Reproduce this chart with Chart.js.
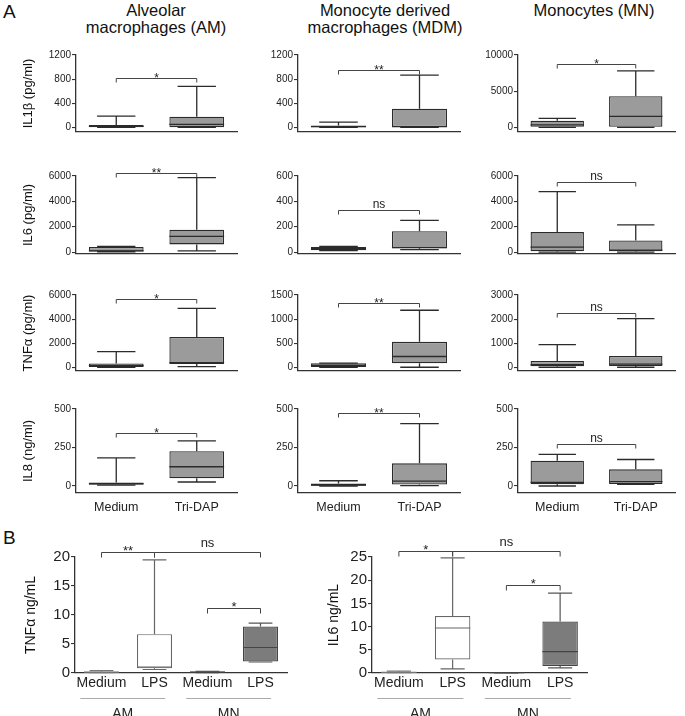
<!DOCTYPE html>
<html>
<head>
<meta charset="utf-8">
<script src="https://cdn.jsdelivr.net/npm/chart.js@4.4.1/dist/chart.umd.min.js"></script>
<style>
  html, body { margin: 0; padding: 0; background: #fff; overflow: hidden; }
  body { width: 685px; height: 716px; position: relative; font-family: 'Liberation Sans', Arial, sans-serif; color: #111; }
  canvas { position: absolute; }
  .lbl { position: absolute; white-space: nowrap; text-align: center; }
</style>
</head>
<body>
<div class="lbl" style="left:3px;top:1px;font-size:19px;">A</div>
<div class="lbl" style="left:3px;top:527px;font-size:19px;">B</div>
<div class="lbl" style="left:56px;top:2px;width:200px;font-size:16.5px;line-height:17px;">Alveolar<br>macrophages (AM)</div>
<div class="lbl" style="left:285px;top:2px;width:200px;font-size:16.5px;line-height:17px;">Monocyte derived<br>macrophages (MDM)</div>
<div class="lbl" style="left:494px;top:2px;width:200px;font-size:16.5px;line-height:17px;">Monocytes (MN)</div>

<script>
// ---- data ----
const groupsA = ['Medium', 'Tri-DAP'];
const groupsB = ['Medium', 'LPS', 'Medium', 'LPS'];
const cellsB = ['AM', 'MN'];
const yTitlesA = ['IL1\u03b2 (pg/ml)', 'IL6 (pg/ml)', 'TNF\u03b1 (pg/ml)', 'IL8 (ng/ml)'];

// box stats per group: [min, q1, median, q3, max]
const il1bAM  = [[0, 2, 15, 40, 185], [0, 2, 50, 175, 680]];
const il1bMDM = [[0, 2, 10, 30, 85], [0, 5, 12, 310, 865]];
const il1bMN  = [[0, 85, 340, 900, 1240], [0, 85, 1500, 4300, 7800]];

const il6AM  = [[30, 50, 100, 400, 450], [100, 610, 1240, 1770, 5870]];
const il6MDM = [[12, 15, 28, 40, 46], [19, 31, 35, 164, 250]];
const il6MN  = [[0, 70, 395, 1580, 4770], [0, 75, 150, 915, 2150]];

const tnfAM  = [[0, 20, 130, 310, 1300], [50, 260, 390, 2520, 4890]];
const tnfMDM = [[0, 5, 35, 81, 85], [0, 81, 223, 527, 1183]];
const tnfMN  = [[0, 40, 104, 260, 936], [0, 50, 130, 468, 2015]];

const il8AM  = [[6, 8, 15, 22, 183], [26, 50, 125, 226, 293]];
const il8MDM = [[0, 1, 6, 17, 34], [2, 9, 32, 147, 405]];
const il8MN  = [[0, 11, 24, 164, 205], [10, 13, 28, 108, 172]];

const tnfB = [[0.05, 0.1, 0.15, 0.2, 0.4], [0.6, 0.8, 1.0, 6.7, 19.5], [0.05, 0.1, 0.15, 0.25, 0.3], [1.9, 2.0, 4.4, 8.0, 8.6]];
const il6B = [[0.05, 0.1, 0.15, 0.2, 0.4], [0.9, 2.9, 9.7, 12.3, 24.8], [0, 0.02, 0.05, 0.08, 0.1], [1.1, 1.5, 4.6, 11.1, 17.2]];

const ticksIL1b = [0, 400, 800, 1200];
const ticksIL1bMN = [0, 5000, 10000];
const ticksIL6 = [0, 2000, 4000, 6000];
const ticksIL6MDM = [0, 200, 400, 600];
const ticksTNF = [0, 2000, 4000, 6000];
const ticksTNFMDM = [0, 500, 1000, 1500];
const ticksTNFMN = [0, 1000, 2000, 3000];
const ticksIL8 = [0, 250, 500];
const ticksTnfB = [0, 5, 10, 15, 20];
const ticksIl6B = [0, 5, 10, 15, 20, 25];

// significance labels and bracket levels (data units)
const sigA = [['*', '**', '*'], ['**', 'ns', 'ns'], ['*', '**', 'ns'], ['*', '**', 'ns']];
const sigLevelA = [[820, 950, 8700], [6250, 333, 5555], [5690, 1344, 2260], [344, 474, 273]];
const sigTnfB = [['**', 0, 1, 20.9], ['ns', 1, 3, 20.9], ['*', 2, 3, 11.2]];
const sigIl6B = [['*', 0, 1, 26.3], ['ns', 1, 3, 26.3], ['*', 2, 3, 19.0]];

// ---- layout ----
const FONT = "'Liberation Sans', Arial, sans-serif";
const rowsA = [{top: 55, zero: 132, axis: 137}, {top: 176, zero: 257, axis: 259}, {top: 295, zero: 372, axis: 376}, {top: 409, zero: 486, axis: 493}];
const colsA = [{left: 76, right: 237}, {left: 298, right: 460}, {left: 518, right: 675}];
const statsA = [[il1bAM, il1bMDM, il1bMN], [il6AM, il6MDM, il6MN], [tnfAM, tnfMDM, tnfMN], [il8AM, il8MDM, il8MN]];
const ticksA = [[ticksIL1b, ticksIL1b, ticksIL1bMN], [ticksIL6, ticksIL6MDM, ticksIL6], [ticksTNF, ticksTNFMDM, ticksTNFMN], [ticksIL8, ticksIL8, ticksIL8]];

function boxPlugin(cfg) {
  return {
    id: 'boxes',
    afterDatasetsDraw(chart) {
      const ctx = chart.ctx, x = chart.scales.x, y = chart.scales.y;
      const meta = chart.getDatasetMeta(0);
      ctx.save();
      ctx.lineWidth = cfg.lw;
      cfg.stats.forEach((s, i) => {
        const bar = meta.data[i];
        const cx = bar.x, bw = bar.width, half = bw * cfg.cap / 2;
        const [mn, q1, md, q3, mx] = s.map(v => y.getPixelForValue(v));
        ctx.strokeStyle = cfg.whisker[i];
        ctx.beginPath();
        ctx.moveTo(cx, q3); ctx.lineTo(cx, mx);
        ctx.moveTo(cx - half, mx); ctx.lineTo(cx + half, mx);
        ctx.moveTo(cx, q1); ctx.lineTo(cx, mn);
        ctx.moveTo(cx - half, mn); ctx.lineTo(cx + half, mn);
        ctx.stroke();
        ctx.strokeStyle = cfg.median[i];
        ctx.beginPath();
        ctx.moveTo(cx - bw / 2, md); ctx.lineTo(cx + bw / 2, md);
        ctx.stroke();
      });
      // significance brackets
      ctx.strokeStyle = '#444';
      ctx.lineWidth = 1;
      ctx.fillStyle = '#222';
      ctx.font = cfg.sigFont;
      ctx.textAlign = 'center';
      ctx.textBaseline = 'alphabetic';
      cfg.brackets.forEach(b => {
        const x1 = x.getPixelForValue(b[1]), x2 = x.getPixelForValue(b[2]);
        const yy = Math.round(y.getPixelForValue(b[3])) + 0.5;
        ctx.beginPath();
        ctx.moveTo(x1, yy + cfg.drop); ctx.lineTo(x1, yy); ctx.lineTo(x2, yy); ctx.lineTo(x2, yy + cfg.drop);
        ctx.stroke();
        const dy = b[0].indexOf('*') >= 0 ? cfg.starDy : cfg.nsDy;
        ctx.fillText(b[0], (x1 + x2) / 2, yy + dy);
      });
      // cell type groups under the axis (panel B)
      if (cfg.groups) {
        const step = x.getPixelForValue(1) - x.getPixelForValue(0);
        const base = chart.chartArea.bottom;
        ctx.font = '14px ' + FONT;
        ctx.textBaseline = 'alphabetic';
        cfg.groups.forEach((g, k) => {
          const a = x.getPixelForValue(2 * k) - 0.4 * step;
          const e = x.getPixelForValue(2 * k + 1) + 0.2 * step;
          ctx.strokeStyle = '#aaa';
          ctx.lineWidth = 1.2;
          ctx.beginPath();
          ctx.moveTo(a, base + 25.5); ctx.lineTo(e, base + 25.5);
          ctx.stroke();
          ctx.fillText(g, (a + e) / 2, base + 45);
        });
      }
      ctx.restore();
    }
  };
}

function makeChart(c) {
  const cv = document.createElement('canvas');
  const w = c.yW + c.plotW + c.padR;
  const h = c.padTop + c.plotH + c.xH + 2;
  cv.width = w; cv.height = h;
  cv.style.left = c.left + 'px';
  cv.style.top = c.top + 'px';
  cv.style.width = w + 'px';
  cv.style.height = h + 'px';
  document.body.appendChild(cv);
  const tickVals = c.ticks;
  new Chart(cv.getContext('2d'), {
    type: 'bar',
    data: {
      labels: c.labels,
      datasets: [{
        data: c.stats.map(s => [s[1], s[3]]),
        backgroundColor: c.fill,
        borderColor: c.border,
        borderWidth: c.lw,
        borderSkipped: false,
        barPercentage: c.barPct,
        categoryPercentage: 1
      }]
    },
    options: {
      responsive: false,
      animation: false,
      devicePixelRatio: 1,
      layout: {padding: {top: c.padTop, right: c.padR, left: 0, bottom: 2}},
      plugins: {legend: {display: false}, tooltip: {enabled: false}},
      scales: {
        x: {
          type: 'category',
          offset: true,
          grid: {display: false, drawTicks: false},
          border: {display: true, color: '#333', width: 1.3},
          ticks: {display: c.showX, color: '#222', font: {family: FONT, size: c.xFont}, padding: c.xPad, maxRotation: 0, autoSkip: false},
          afterFit: s => { s.height = c.xH; }
        },
        y: {
          min: c.yMin,
          max: tickVals[tickVals.length - 1],
          grid: {drawOnChartArea: false, drawTicks: true, tickLength: 4, color: '#333', lineWidth: 1.1},
          border: {display: true, color: '#333', width: 1.3},
          ticks: {color: '#222', font: {family: FONT, size: c.yFont}, padding: 1, autoSkip: false, callback: v => String(v)},
          afterBuildTicks: s => { s.ticks = tickVals.map(v => ({value: v})); },
          afterFit: s => { s.width = c.yW; },
          title: {
            display: !!c.title,
            text: c.title || '',
            color: '#111',
            font: {family: FONT, size: c.titleFont},
            padding: {top: c.titlePad, bottom: 0}
          }
        }
      }
    },
    plugins: [boxPlugin({
      stats: c.stats, cap: c.cap, lw: c.lw, whisker: c.whisker, median: c.median,
      brackets: c.brackets, sigFont: c.sigFont, drop: c.drop, starDy: c.starDy, nsDy: c.nsDy, groups: c.groups
    })]
  });
}

// ---- panel A ----
rowsA.forEach((r, ri) => {
  colsA.forEach((col, ci) => {
    const ticks = ticksA[ri][ci];
    const yMax = ticks[ticks.length - 1];
    const yW = ci === 0 ? 76 : 45;
    const padTop = 24;
    const xH = ri === 3 ? 26 : 0;
    makeChart({
      left: col.left - yW, top: r.top - padTop,
      yW: yW, plotW: col.right - col.left, padR: 6, padTop: padTop,
      plotH: r.axis - r.top, xH: xH,
      labels: groupsA, stats: statsA[ri][ci], ticks: ticks,
      yMin: -(r.axis - r.zero) / (r.zero - r.top) * yMax,
      fill: ['#9b9b9b', '#9b9b9b'], border: ['#2b2b2b', '#2b2b2b'],
      whisker: ['#2b2b2b', '#2b2b2b'], median: ['#2b2b2b', '#2b2b2b'],
      lw: 1.3, barPct: 0.68, cap: 0.7,
      showX: ri === 3, xFont: 12.5, xPad: 7, yFont: 10,
      title: ci === 0 ? yTitlesA[ri] : null, titleFont: 13, titlePad: 21,
      brackets: [[sigA[ri][ci], 0, 1, sigLevelA[ri][ci]]],
      sigFont: '12px ' + FONT, drop: 4, starDy: 3, nsDy: -3
    });
  });
});

// ---- panel B ----
const bCommon = {
  padR: 6, padTop: 32, plotH: 116, xH: 50, labels: groupsB,
  yMin: 0,
  fill: ['#8e8e8e', '#ffffff', '#6a6a6a', '#7c7c7c'],
  border: ['#777', '#666', '#444', '#444'],
  whisker: ['#777', '#666', '#444', '#555'],
  median: ['#777', '#666', '#444', '#444'],
  lw: 1.2, barPct: 0.66, cap: 0.68,
  showX: true, xFont: 14, xPad: 2, yFont: 15, titleFont: 14,
  sigFont: '13px ' + FONT, drop: 5, starDy: 2, nsDy: -6,
  groups: cellsB
};
makeChart(Object.assign({}, bCommon, {
  left: 0, top: 557 - 32, yW: 75, plotW: 212,
  stats: tnfB, ticks: ticksTnfB, title: 'TNF\u03b1 ng/mL', titlePad: 23, brackets: sigTnfB
}));
makeChart(Object.assign({}, bCommon, {
  left: 320, top: 557 - 32, yW: 52, plotW: 215,
  stats: il6B, ticks: ticksIl6B, title: 'IL6 ng/mL', titlePad: 6, brackets: sigIl6B
}));
</script>
</body>
</html>
